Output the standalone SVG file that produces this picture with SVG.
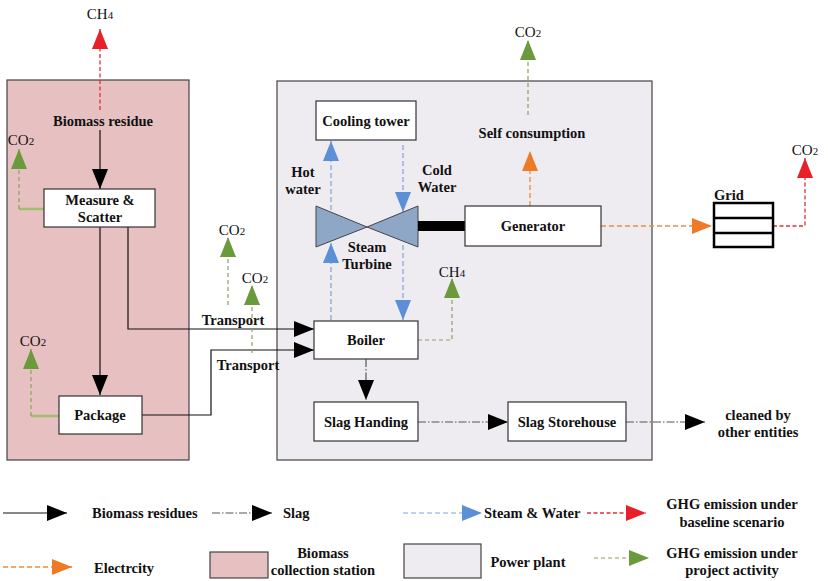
<svg xmlns="http://www.w3.org/2000/svg" width="828" height="581" viewBox="0 0 828 581" font-family="'Liberation Serif', 'DejaVu Serif', serif">
<style>
text{font-family:"Liberation Serif","DejaVu Serif",serif;fill:#111}
.b{font-weight:bold;font-size:14.5px;text-anchor:middle}
.bl{font-weight:bold;font-size:14.5px}
.g{font-size:15px;text-anchor:middle}
.g tspan{font-size:11px}
.box{fill:#fff;stroke:#333;stroke-width:1.2}
.blk{fill:none;stroke:#111;stroke-width:1.2}
.slag{fill:none;stroke:#555;stroke-width:1.2;stroke-dasharray:8 2 1.5 2}
.blue{fill:none;stroke:#7fa3d4;stroke-width:1.2;stroke-dasharray:5 3}
.org{fill:none;stroke:#ee8a3c;stroke-width:1.3;stroke-dasharray:5 3}
.red{fill:none;stroke:#e0303a;stroke-width:1.3;stroke-dasharray:4 2.5}
.grn{fill:none;stroke:#86a35a;stroke-width:1.2;stroke-dasharray:4 3}
.grns{fill:none;stroke:#9cc06c;stroke-width:2.5}
</style>
<defs>
<marker id="ak" markerUnits="userSpaceOnUse" markerWidth="20" markerHeight="16" refX="20" refY="8" orient="auto"><path d="M0,0 L20,8 L0,16 z" fill="#000"/></marker>
<marker id="ab" markerUnits="userSpaceOnUse" markerWidth="20" markerHeight="16" refX="20" refY="8" orient="auto"><path d="M0,0 L20,8 L0,16 z" fill="#5b8fd6"/></marker>
<marker id="ao" markerUnits="userSpaceOnUse" markerWidth="20" markerHeight="16" refX="20" refY="8" orient="auto"><path d="M0,0 L20,8 L0,16 z" fill="#ee7a26"/></marker>
<marker id="ar" markerUnits="userSpaceOnUse" markerWidth="20" markerHeight="16" refX="20" refY="8" orient="auto"><path d="M0,0 L20,8 L0,16 z" fill="#e8202a"/></marker>
<marker id="ag" markerUnits="userSpaceOnUse" markerWidth="20" markerHeight="16" refX="20" refY="8" orient="auto"><path d="M0,0 L20,8 L0,16 z" fill="#6b9a3c"/></marker>
</defs>
<rect width="828" height="581" fill="#fff"/>

<g id="collection-station"><rect x="7" y="80" width="182" height="380" fill="#e7c0c1" stroke="#444" stroke-width="1.2"/></g>
<g id="power-plant"><rect x="277" y="81" width="375" height="379" fill="#eeecf1" stroke="#444" stroke-width="1.2"/></g>

<g id="connectors">
<path class="blk" d="M100,130 V189" marker-end="url(#ak)"/>
<path class="blk" d="M100,227 V395" marker-end="url(#ak)"/>
<path class="blk" d="M128,227 V329 H314" marker-end="url(#ak)"/>
<path class="blk" d="M142,415 H211 V350 H314" marker-end="url(#ak)"/>
<path class="slag" d="M366,359 V400" marker-end="url(#ak)"/>
<path class="slag" d="M418,422 H508" marker-end="url(#ak)"/>
<path class="slag" d="M626,422 H705" marker-end="url(#ak)"/>
<path class="blue" d="M331,320 V243" marker-end="url(#ab)"/>
<path class="blue" d="M331,210 V141" marker-end="url(#ab)"/>
<path class="blue" d="M403,145 V212" marker-end="url(#ab)"/>
<path class="blue" d="M403,245 V320" marker-end="url(#ab)"/>
<path class="org" d="M530,206 V151" marker-end="url(#ao)"/>
<path class="org" d="M601,226 H712" marker-end="url(#ao)"/>
<path class="red" d="M100,110 V29" marker-end="url(#ar)"/>
<path class="red" d="M773,226 H805 V158" marker-end="url(#ar)"/>
<path class="grns" d="M44,209 H19"/>
<path class="grn" d="M19,209 V149" marker-end="url(#ag)"/>
<path class="grns" d="M59,416 H31"/>
<path class="grn" d="M31,416 V349" marker-end="url(#ag)"/>
<path class="grn" d="M228,305 V237" marker-end="url(#ag)"/>
<path class="grn" d="M252,353 V285" marker-end="url(#ag)"/>
<path class="grn" d="M418,340 H452 V278" marker-end="url(#ag)"/>
<path class="grn" d="M528,115 V40" marker-end="url(#ag)"/>
</g>

<g id="biomass-residue"><text class="b" x="103" y="126">Biomass residue</text></g>
<g id="measure-scatter"><rect class="box" x="44" y="189" width="111" height="38"/><text class="b" x="100" y="205">Measure &amp;</text><text class="b" x="100" y="222">Scatter</text></g>
<g id="package"><rect class="box" x="59" y="396" width="83" height="38"/><text class="b" x="100" y="420">Package</text></g>
<g id="cooling-tower"><rect class="box" x="316" y="101" width="100" height="39"/><text class="b" x="366" y="126">Cooling tower</text></g>
<g id="steam-turbine">
<polygon points="316,206 316,247 367,227" fill="#8fa7c6" stroke="#444" stroke-width="1"/>
<polygon points="418,206 418,247 367,227" fill="#8fa7c6" stroke="#444" stroke-width="1"/>
<rect x="418" y="221" width="47" height="10" fill="#000"/>
<text class="b" x="367" y="252">Steam</text><text class="b" x="367" y="269">Turbine</text>
</g>
<g id="generator"><rect class="box" x="465" y="206" width="136" height="40"/><text class="b" x="533" y="231">Generator</text></g>
<g id="boiler"><rect class="box" x="314" y="321" width="104" height="38"/><text class="b" x="366" y="345">Boiler</text></g>
<g id="slag-handing"><rect class="box" x="314" y="402" width="104" height="39"/><text class="b" x="366" y="427">Slag Handing</text></g>
<g id="slag-storehouse"><rect class="box" x="508" y="402" width="118" height="39"/><text class="b" x="567" y="427">Slag Storehouse</text></g>
<g id="grid"><text class="bl" x="714" y="200">Grid</text>
<rect x="714" y="203" width="59" height="44" fill="#fff" stroke="#000" stroke-width="2.5"/>
<path d="M714,218 H773 M714,233 H773" stroke="#000" stroke-width="2.5"/></g>
<g id="cleaned"><text class="b" x="758" y="420">cleaned by</text><text class="b" x="758" y="437">other entities</text></g>

<g id="labels">
<text class="b" x="303" y="177">Hot</text><text class="b" x="303" y="194">water</text>
<text class="b" x="437" y="175">Cold</text><text class="b" x="437" y="192">Water</text>
<text class="b" x="532" y="138">Self consumption</text>
<text class="b" x="233" y="325">Transport</text>
<text class="b" x="248" y="370">Transport</text>
<text class="g" x="100" y="19">CH<tspan>4</tspan></text>
<text class="g" x="452" y="277">CH<tspan>4</tspan></text>
<text class="g" x="21" y="145">CO<tspan>2</tspan></text>
<text class="g" x="33" y="346">CO<tspan>2</tspan></text>
<text class="g" x="232" y="235">CO<tspan>2</tspan></text>
<text class="g" x="255" y="283">CO<tspan>2</tspan></text>
<text class="g" x="528" y="37">CO<tspan>2</tspan></text>
<text class="g" x="805" y="155">CO<tspan>2</tspan></text>
</g>

<g id="legend">
<path class="blk" d="M3,513 H67" marker-end="url(#ak)"/>
<text class="bl" x="92" y="518">Biomass residues</text>
<path class="slag" d="M212,513 H272" marker-end="url(#ak)"/>
<text class="bl" x="283" y="518">Slag</text>
<path class="blue" d="M403,513 H482" marker-end="url(#ab)"/>
<text class="bl" x="484" y="518">Steam &amp; Water</text>
<path class="red" d="M587,513 H646" marker-end="url(#ar)"/>
<text class="b" x="732" y="509">GHG emission under</text>
<text class="b" x="732" y="527">baseline scenario</text>
<path class="org" d="M3,567 H72" marker-end="url(#ao)"/>
<text class="bl" x="94" y="573">Electrcity</text>
<rect x="210" y="552" width="58" height="26" fill="#e7c0c1" stroke="#444" stroke-width="1.2"/>
<text class="b" x="323" y="558">Biomass</text>
<text class="b" x="323" y="575">collection station</text>
<rect x="404" y="544" width="77" height="34" fill="#eeecf1" stroke="#444" stroke-width="1.2"/>
<text class="b" x="528" y="567">Power plant</text>
<path class="grn" d="M594,558 H649" marker-end="url(#ag)"/>
<text class="b" x="732" y="558">GHG emission under</text>
<text class="b" x="732" y="575">project activity</text>
</g>
</svg>
